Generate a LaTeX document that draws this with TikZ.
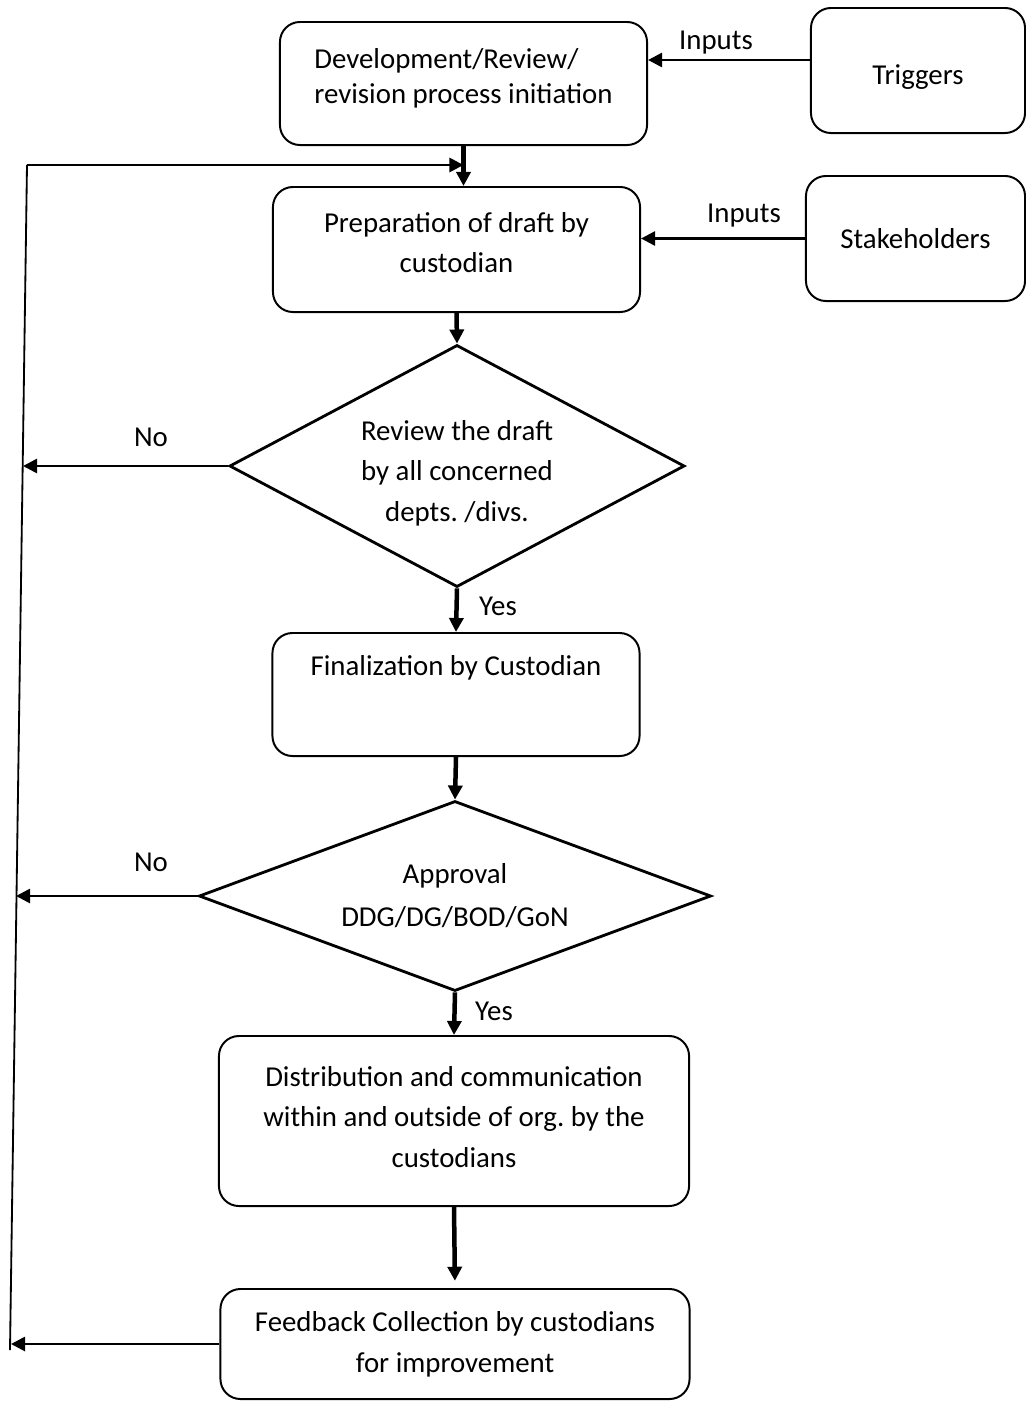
\documentclass[tikz,border=0pt]{standalone}
\usepackage{fontspec}
\setmainfont{Carlito}
\usetikzlibrary{shapes.geometric,arrows.meta}

\tikzset{
    stepbox/.style={draw, line width=1.4pt, rounded corners=0.5cm, inner sep=0pt, align=center},
    decision/.style={draw, diamond, aspect=2, line width=2pt, inner sep=0pt, align=center},
    flow/.style={line width=3.2pt, -{Triangle[length=10pt,width=10pt]}},
    sidearrow/.style={line width=1.9pt, -{Triangle[length=10pt,width=10pt]}},
    loopline/.style={line width=1.3pt}
}
% invisible struts to nudge text inside a box
\newcommand{\lift}[1]{\rule[-#1]{0pt}{#1}}
\newcommand{\sink}[1]{\rule{0pt}{#1}}

\begin{document}
\begin{tikzpicture}[x=0.025cm, y=-0.025cm, font=\fontsize{20.5}{29}\selectfont]
        \useasboundingbox (0,0) rectangle (1026,1401);

        % boxes and decisions
        \node[stepbox, minimum width=9.175cm, minimum height=3.075cm, align=left,
              font=\fontsize{20.5}{25}\selectfont] (init) at (463.5,83.5) {Development/Review/\\revision process initiation\lift{11pt}};
        \node[stepbox, minimum width=5.35cm, minimum height=3.125cm] (triggers) at (918,70.5) {\sink{23pt}Triggers};
        \node[stepbox, minimum width=9.175cm, minimum height=3.125cm] (draft) at (456.5,249.5) {Preparation of draft by\\custodian\lift{10pt}};
        \node[stepbox, minimum width=5.475cm, minimum height=3.125cm] (stake) at (915.5,238.5) {Stakeholders};
        \node[decision, minimum width=11.375cm, minimum height=6.05cm] (review) at (457,466) {\sink{24.5pt}Review the draft\\by all concerned\\depts.\ /divs.};
        \node[stepbox, minimum width=9.175cm, minimum height=3.075cm] (final) at (456,694.5) {Finalization by Custodian\\[12pt]~};
        \node[decision, minimum width=12.8cm, minimum height=4.75cm,
              font=\fontsize{20.5}{30.5}\selectfont] (approval) at (455,896) {Approval\\DDG/DG/BOD/GoN};
        \node[stepbox, minimum width=11.75cm, minimum height=4.25cm] (distrib) at (454,1121) {Distribution and communication\\within and outside of org.\ by the\\custodians\lift{6pt}};
        \node[stepbox, minimum width=11.725cm, minimum height=2.75cm] (feedback) at (455,1344) {Feedback Collection by custodians\\for improvement};

        % labels
        \node (inputsA) at (716,43) {Inputs};
        \node (inputsB) at (744,216) {Inputs};
        \node (noA) at (151,437) {No};
        \node (yesA) at (498,606) {Yes};
        \node (noB) at (151,862) {No};
        \node (yesB) at (494,1011) {Yes};

        \coordinate (trigrow) at (0,60);
        \coordinate (looptop) at (27,165);
        \coordinate (loopbot) at (10,1350);
        \coordinate (backA) at (23,466);
        \coordinate (backB) at (16,896);
        \coordinate (backC) at (11,1344);

        \draw[sidearrow] (triggers.west |- trigrow) -- (init.east |- trigrow);
        \draw[sidearrow] (stake.west) -- (draft.east |- stake.west);
        \draw[flow] (init.south) -- (init.south |- draft.north);
        \draw[flow] (draft.south) -- (review.north);
        \draw[flow] (review.south) -- (final.north);
        \draw[flow] (final.south) -- (approval.north);
        \draw[flow] (approval.south) -- (distrib.north);
        \draw[flow, shorten >=0.18cm] (distrib.south) -- (feedback.north);

        % loop back
        \draw[loopline] (looptop) -- (loopbot);
        \draw[sidearrow] (looptop) -- (init.south |- looptop);
        \draw[sidearrow] (review.west) -- (backA);
        \draw[sidearrow] (approval.west) -- (backB);
        \draw[sidearrow] (feedback.west) -- (backC);
    \end{tikzpicture}
\end{document}
